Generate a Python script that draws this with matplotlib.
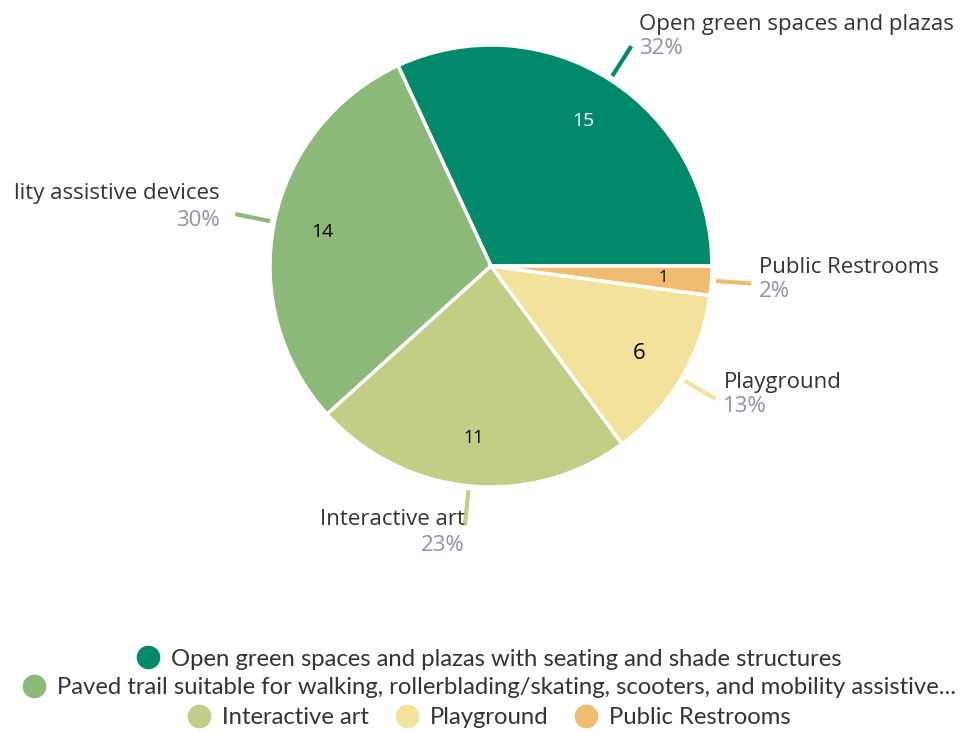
import matplotlib.pyplot as plt
from matplotlib.lines import Line2D
import numpy as np

# datos
etiquetas = ["Open green spaces and plazas",
             "lity assistive devices",
             "Interactive art", "Playground", "Public Restrooms"]
leyenda = ["Open green spaces and plazas with seating and shade structures",
           "Paved trail suitable for walking, rollerblading/skating, scooters, and mobility assistive...",
           "Interactive art", "Playground", "Public Restrooms"]
valores = [15, 14, 11, 6, 1]
colores = ["#00896a", "#8cb87a", "#c2cd86", "#f3e29b", "#f0bc70"]

W, H = 978, 732
fig = plt.figure(figsize=(W / 100, H / 100), dpi=100)
ax = fig.add_axes([0, 0, 1, 1])

cx, cy, R = 491, H - 266, 221
total = sum(valores)
wedges, _, autot = ax.pie(valores, colors=colores, startangle=0, counterclock=True,
                          center=(cx, cy), radius=R,
                          autopct=lambda p: "%d" % round(p * total / 100),
                          pctdistance=0.78,
                          wedgeprops=dict(edgecolor="white", linewidth=2.5))
tam = [14, 14, 13, 16, 12]
for i, t in enumerate(autot):
    t.set_color("white" if i == 0 else "black")
    t.set_fontsize(tam[i])
    t.set_family("Open Sans")

ax.set_xlim(0, W)
ax.set_ylim(0, H)
ax.set_aspect("equal")
ax.axis("off")

# etiquetas externas con lineas guia
for i, w in enumerate(wedges):
    ang = np.deg2rad((w.theta1 + w.theta2) / 2)
    c, s = np.cos(ang), np.sin(ang)
    x0, y0 = cx + 1.02 * R * c, cy + 1.02 * R * s
    x1, y1 = cx + 1.18 * R * c, cy + 1.18 * R * s
    ax.plot([x0, x1], [y0, y1], color=colores[i], lw=3, solid_capstyle="butt")
    pct = "%d%%" % round(100 * valores[i] / total)
    if s < -0.9:
        ha = "right"
        xt, yp, yn = x1, y1 - 20, y1 + 6
    elif c > 0:
        ha = "left"
        xt = x1 + 8
        yp = y1 - (2 if s > 0.5 else 8)
        yn = yp + 24
    else:
        ha = "right"
        xt = x1 - 16
        yp = y1 - 6
        yn = yp + 27
    ax.text(xt, yp, pct, ha=ha, va="center", color="#8e90b2", fontsize=16, family="Open Sans")
    ax.text(xt, yn, etiquetas[i], ha=ha, va="center", color="#333333", fontsize=16, family="Open Sans")

# leyenda en tres filas
def handle(col):
    return Line2D([], [], marker="o", ls="", markersize=16, markerfacecolor=col, markeredgecolor=col)

filas = [([0], 1 - 659 / H), ([1], 1 - 688 / H), ([2, 3, 4], 1 - 718 / H)]
for idx, yy in filas:
    lg = fig.legend([handle(colores[k]) for k in idx], [leyenda[k] for k in idx],
                    loc="center", bbox_to_anchor=(0.5, yy), ncol=len(idx), frameon=False,
                    prop=dict(family="Lato", size=17.2), handletextpad=0.45, columnspacing=1.1,
                    borderpad=0, handlelength=1.0)
    for t in lg.get_texts():
        t.set_color("#333333")

fig.savefig("out.png", dpi=100)
